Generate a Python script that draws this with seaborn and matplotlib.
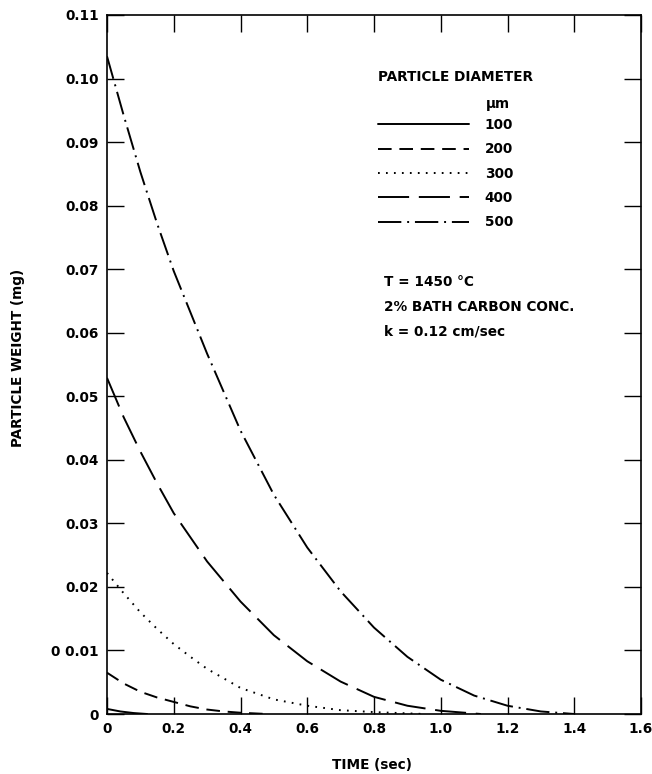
import numpy as np
import pandas as pd
import matplotlib
matplotlib.use("Agg")
import matplotlib.pyplot as plt
import seaborn as sns

# ---- data ----
diameters = ["100", "200", "300", "400", "500"]
t100 = [0.0, 0.04, 0.08, 0.12]
w100 = [0.0008, 0.0004, 0.00015, 0.0]
t200 = [0.0, 0.05, 0.1, 0.15, 0.2, 0.25, 0.3, 0.35, 0.4, 0.48]
w200 = [0.0065, 0.0048, 0.0035, 0.0026, 0.0019, 0.0012, 0.0007, 0.0004, 0.0002, 0.0]
t300 = [0.0, 0.05, 0.1, 0.15, 0.2, 0.25, 0.3, 0.4, 0.5, 0.6, 0.7, 0.8, 0.95]
w300 = [0.0222, 0.0190, 0.0160, 0.0134, 0.0110, 0.0090, 0.0071, 0.0041, 0.0023, 0.0013, 0.0006, 0.0003, 0.0]
t400 = [0.0, 0.05, 0.1, 0.15, 0.2, 0.3, 0.4, 0.5, 0.6, 0.7, 0.8, 0.9, 1.0, 1.12]
w400 = [0.0529, 0.0467, 0.0413, 0.0363, 0.0316, 0.0240, 0.0177, 0.0124, 0.0083, 0.0051, 0.0027, 0.0013, 0.0005, 0.0]
t500 = [0.0, 0.05, 0.1, 0.15, 0.2, 0.3, 0.4, 0.5, 0.6, 0.7, 0.8, 0.9, 1.0, 1.1, 1.2, 1.3, 1.4]
w500 = [0.1035, 0.0942, 0.0853, 0.0772, 0.0697, 0.0567, 0.0446, 0.0345, 0.0262, 0.0193, 0.0136, 0.0090, 0.0054, 0.0029, 0.0013, 0.0004, 0.0]

x_ticks = [0, 0.2, 0.4, 0.6, 0.8, 1.0, 1.2, 1.4, 1.6]
x_ticklabels = ["0", "0.2", "0.4", "0.6", "0.8", "1.0", "1.2", "1.4", "1.6"]
y_ticks = [0, 0.01, 0.02, 0.03, 0.04, 0.05, 0.06, 0.07, 0.08, 0.09, 0.10, 0.11]
y_ticklabels = ["0", "0 0.01", "0.02", "0.03", "0.04", "0.05", "0.06", "0.07",
                "0.08", "0.09", "0.10", "0.11"]
notes = ["T = 1450 °C", "2% BATH CARBON CONC.", "k = 0.12 cm/sec"]

frames = []
for d, t, w in zip(diameters, [t100, t200, t300, t400, t500],
                   [w100, w200, w300, w400, w500]):
    frames.append(pd.DataFrame({"time": t, "weight": w, "diameter": d}))
df = pd.concat(frames, ignore_index=True)

sns.set_style("white")
plt.rcParams["font.family"] = ["DejaVu Sans"]
plt.rcParams["text.color"] = "black"
plt.rcParams["axes.labelcolor"] = "black"
plt.rcParams["xtick.color"] = "black"
plt.rcParams["ytick.color"] = "black"
FS = 9.8
FW = "bold"

fig = plt.figure(figsize=(6.52, 7.74), dpi=100)
W, H = 652, 774
L, R, T, B = 107, 641, 15, 714
ax = fig.add_axes([L / W, 1 - B / H, (R - L) / W, (B - T) / H])

dash_map = {"100": "", "200": (7, 4), "300": (0.9, 3.2),
            "400": (16, 5), "500": (12, 3, 1, 3)}
sns.lineplot(data=df, x="time", y="weight", style="diameter",
             style_order=diameters, dashes=dash_map, color="black",
             linewidth=1.4, estimator=None, sort=False, ax=ax, legend="full")

handles, labels = ax.get_legend_handles_labels()
ax.get_legend().remove()
hl = [(h, l) for h, l in zip(handles, labels) if l in diameters]
for h, _ in hl:
    h.set_color("black")
    h.set_linewidth(1.4)

ax.set_xlim(0, 1.6)
ax.set_ylim(0, 0.11)
ax.set_xticks(x_ticks)
ax.set_xticklabels(x_ticklabels, fontsize=FS, fontweight=FW)
ax.set_yticks(y_ticks)
ax.set_yticklabels(y_ticklabels, fontsize=FS, fontweight=FW)
ax.tick_params(direction="in", length=12, width=1.0, top=True, right=True,
               bottom=True, left=True, pad=6, colors="black")
for s in ax.spines.values():
    s.set_color("black")
    s.set_linewidth(1.2)
    s.set_visible(True)

ax.set_xlabel("")
ax.set_ylabel("")
fig.text(372 / W, 1 - 765 / H, "TIME (sec)", ha="center", va="center",
         fontsize=FS, fontweight=FW)
fig.text(18 / W, 1 - 358 / H, "PARTICLE WEIGHT (mg)", ha="center", va="center",
         rotation=90, fontsize=FS, fontweight=FW)

# legend
fig.text(378 / W, 1 - 77 / H, "PARTICLE DIAMETER", ha="left", va="center",
         fontsize=FS, fontweight=FW)
fig.text(486 / W, 1 - 104 / H, "µm", ha="left", va="center",
         fontsize=FS, fontweight=FW)
leg = ax.legend([h for h, _ in hl], [l for _, l in hl], frameon=False,
                loc="upper left",
                bbox_to_anchor=((378 - L) / (R - L), (B - 118) / (B - T)),
                handlelength=6.7, handletextpad=1.15, labelspacing=0.76,
                borderpad=0, borderaxespad=0,
                prop={"size": FS, "weight": FW})

for i, s in enumerate(notes):
    fig.text(384 / W, 1 - (282 + 25 * i) / H, s, ha="left", va="center",
             fontsize=FS, fontweight=FW)

fig.savefig("out.png", dpi=100)
